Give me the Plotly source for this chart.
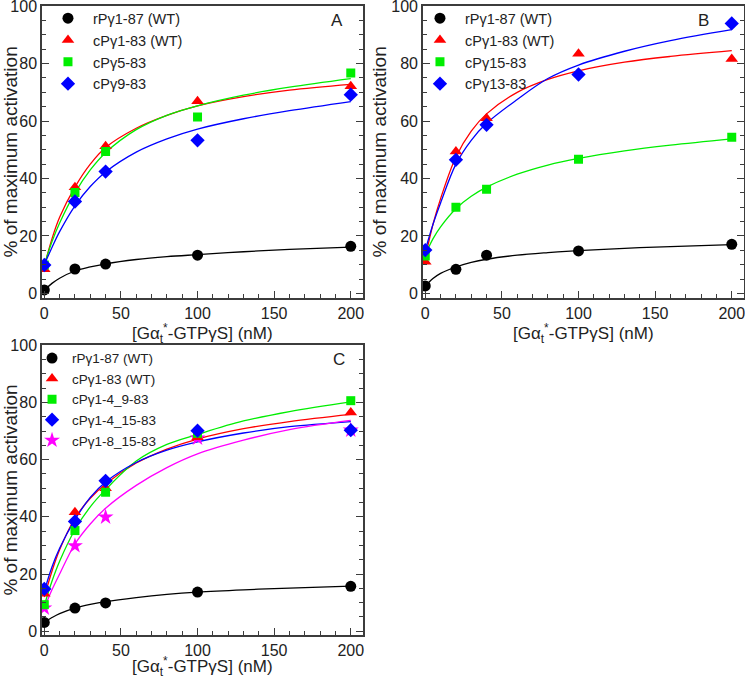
import plotly.graph_objs as go

BLACK = "#000000"
RED = "#ff0000"
GREEN = "#00ee00"
BLUE = "#0000ff"
MAGENTA = "#ff00ff"
AXIS_COLOR = "#3c3c3c"
FONT = "Liberation Sans, Arial, sans-serif"
X_TITLE = "[Gα<sub>t</sub><sup>*</sup>-GTPγS] (nM)"
Y_TITLE = "% of maximum activation"

# [Gat*-GTPgS] (nM)
conc = [0, 20, 40, 100, 200]
fit_x = [0, 5, 10, 20, 30, 40, 60, 80, 100, 130, 160, 200]

# Panel A
a_names = ["rPγ1-87 (WT)", "cPγ1-83 (WT)", "cPγ5-83", "cPγ9-83"]
a_points = [
    [1.2, 8.5, 10.2, 13.3, 16.4],
    [8.4, 37.0, 51.2, 66.9, 72.1],
    [9.9, 35.1, 49.4, 61.4, 76.7],
    [9.9, 32.0, 42.4, 53.3, 69.2],
]
a_fits = [
    [1.2, 3.5, 5.3, 7.8, 9.2, 10.3, 11.8, 12.8, 13.5, 14.5, 15.3, 16.1],
    [9.5, 19.0, 26.5, 37.0, 45.0, 50.8, 57.5, 62.0, 65.3, 68.5, 70.8, 72.8],
    [10.0, 18.0, 24.5, 35.0, 43.0, 49.0, 57.0, 62.0, 65.3, 69.0, 71.8, 74.8],
    [10.0, 16.0, 21.5, 30.5, 37.2, 42.3, 49.2, 53.8, 57.2, 60.8, 63.6, 66.8],
]

# Panel B
b_names = ["rPγ1-87 (WT)", "cPγ1-83 (WT)", "cPγ15-83", "cPγ13-83"]
b_points = [
    [2.6, 8.4, 13.3, 14.8, 17.1],
    [11.0, 49.4, 61.0, 83.4, 81.6],
    [13.0, 30.0, 36.3, 46.7, 54.4],
    [15.1, 46.5, 58.7, 76.2, 94.0],
]
b_fits = [
    [2.6, 5.2, 7.0, 9.2, 10.8, 11.9, 13.3, 14.2, 14.9, 15.7, 16.3, 17.0],
    [12.5, 24.0, 33.0, 47.5, 56.5, 62.5, 70.0, 74.5, 77.5, 80.5, 82.5, 84.5],
    [13.5, 19.0, 23.2, 29.5, 33.8, 37.0, 41.5, 44.7, 47.0, 49.6, 51.6, 53.8],
    [15.0, 24.0, 31.5, 45.0, 53.3, 59.2, 67.5, 74.8, 79.5, 84.3, 88.0, 91.8],
]

# Panel C
c_names = ["rPγ1-87 (WT)", "cPγ1-83 (WT)", "cPγ1-4_9-83", "cPγ1-4_15-83", "cPγ1-8_15-83"]
c_points = [
    [3.1, 8.1, 9.9, 13.7, 15.7],
    [13.1, 41.6, 50.0, 67.8, 76.5],
    [9.3, 35.2, 48.6, 69.2, 80.6],
    [14.8, 38.4, 52.6, 70.1, 70.3],
    [8.1, 29.9, 39.9, 67.5, 70.3],
]
c_fits = [
    [3.1, 4.8, 6.2, 8.1, 9.4, 10.4, 11.8, 12.9, 13.7, 14.5, 15.1, 15.8],
    [12.0, 21.0, 28.5, 39.5, 46.5, 51.5, 58.8, 63.7, 67.2, 70.8, 73.3, 75.8],
    [9.0, 17.5, 24.5, 35.5, 43.5, 49.5, 59.5, 65.3, 68.8, 73.5, 76.8, 80.2],
    [14.0, 22.5, 29.0, 39.0, 46.8, 52.2, 59.0, 63.3, 66.2, 69.3, 71.5, 73.3],
    [8.0, 14.5, 20.0, 30.5, 37.5, 43.0, 51.0, 57.2, 62.0, 66.8, 70.5, 73.7],
]

colors = [BLACK, RED, GREEN, BLUE, MAGENTA]
symbols = ["circle", "triangle-up", "square", "diamond", "star"]
sizes = [11, 11, 9, 11, 12]

panels = [
    ("x", "y", "legend", a_names, a_points, a_fits),
    ("x2", "y2", "legend2", b_names, b_points, b_fits),
    ("x3", "y3", "legend3", c_names, c_points, c_fits),
]

data = []
for xa, ya, leg, names, points, fits in panels:
    for i, ys in enumerate(fits):
        data.append(
            go.Scatter(
                x=fit_x, y=ys, xaxis=xa, yaxis=ya, mode="lines",
                line={"color": colors[i], "width": 1.3, "shape": "spline"},
                showlegend=False, hoverinfo="skip",
            )
        )
    # magenta stars sit under the blue diamonds in panel C
    order = list(range(len(names)))
    if len(names) == 5:
        order = [0, 4, 1, 2, 3]
    for i in order:
        data.append(
            go.Scatter(
                x=conc, y=points[i], xaxis=xa, yaxis=ya, mode="markers",
                name=names[i], legend=leg, legendrank=i + 1,
                marker={"color": colors[i], "symbol": symbols[i], "size": sizes[i],
                        "line": {"width": 0}},
            )
        )


def x_axis(domain, anchor):
    return {
        "domain": domain, "anchor": anchor, "range": [-1.5, 208], "automargin": False,
        "tick0": 0, "dtick": 50, "ticks": "inside", "ticklen": 7,
        "tickcolor": AXIS_COLOR, "tickfont": {"size": 16, "color": "#222"},
        "ticklabelstandoff": 0, "ticklabeloverflow": "allow",
        "minor": {"ticks": "inside", "dtick": 10, "ticklen": 4, "tickcolor": AXIS_COLOR},
        "showline": True, "linecolor": AXIS_COLOR, "linewidth": 1.5, "mirror": True,
        "showgrid": False, "zeroline": False,
    }


def y_axis(domain, anchor, rng):
    return {
        "domain": domain, "anchor": anchor, "range": rng, "automargin": False,
        "tick0": 0, "dtick": 20, "ticks": "inside", "ticklen": 7,
        "tickcolor": AXIS_COLOR, "tickfont": {"size": 16, "color": "#222"},
        "ticklabeloverflow": "allow",
        "minor": {"ticks": "inside", "dtick": 5, "ticklen": 4, "tickcolor": AXIS_COLOR},
        "showline": True, "linecolor": AXIS_COLOR, "linewidth": 1.5, "mirror": "ticks",
        "showgrid": False, "zeroline": False,
        "title": {"text": Y_TITLE, "font": {"size": 19, "color": "#222"}, "standoff": 0},
    }


legend_style = {
    "xanchor": "left", "yanchor": "top", "bgcolor": "rgba(0,0,0,0)", "borderwidth": 0,
}

# panel letters
letters = [("A", "x", "y", 0.92, 0.95), ("B", "x2", "y2", 0.874, 0.95),
           ("C", "x3", "y3", 0.925, 0.95)]
annotations = [
    {"text": t, "xref": xr + " domain", "yref": yr + " domain", "x": x, "y": y,
     "xanchor": "center", "yanchor": "middle",
     "showarrow": False, "font": {"size": 17, "color": "#222"}}
    for t, xr, yr, x, y in letters
]
# x axis titles, placed below each panel's tick labels
for xr, y in [("x", -0.122), ("x2", -0.122), ("x3", -0.107)]:
    annotations.append(
        {"text": X_TITLE, "xref": xr + " domain", "yref": "y" + xr[1:] + " domain",
         "x": 0.5, "y": y, "xanchor": "center", "yanchor": "middle",
         "showarrow": False, "font": {"size": 17, "color": "#222"}}
    )

layout = {
    "width": 745, "height": 676,
    "margin": {"l": 42, "r": 1, "t": 6, "b": 41},
    "font": {"family": FONT},
    "paper_bgcolor": "white", "plot_bgcolor": "white",
    "xaxis": x_axis([0, 0.4573], "y"),
    "yaxis": y_axis([0.5362, 1], "x", [-1.5, 100.05]),
    "xaxis2": x_axis([0.5427, 1], "y2"),
    "yaxis2": y_axis([0.5362, 1], "x2", [-1.5, 100.05]),
    "xaxis3": x_axis([0, 0.4573], "y3"),
    "yaxis3": y_axis([0, 0.461], "x3", [-1.3, 100.05]),
    "legend": dict(legend_style, x=0.0014, y=1.006, itemwidth=40,
                   font={"size": 14.5, "color": "#222"}),
    "legend2": dict(legend_style, x=0.5313, y=1.006, itemwidth=40,
                    font={"size": 14.5, "color": "#222"}),
    "legend3": dict(legend_style, x=-0.0142, y=0.4646, itemwidth=30,
                    font={"size": 13.5, "color": "#222"}),
    "annotations": annotations,
}

fig = go.Figure(data=data, layout=layout)
fig.write_html("out.html", config={"displayModeBar": False},
               post_script="document.body.style.margin = '0';")
